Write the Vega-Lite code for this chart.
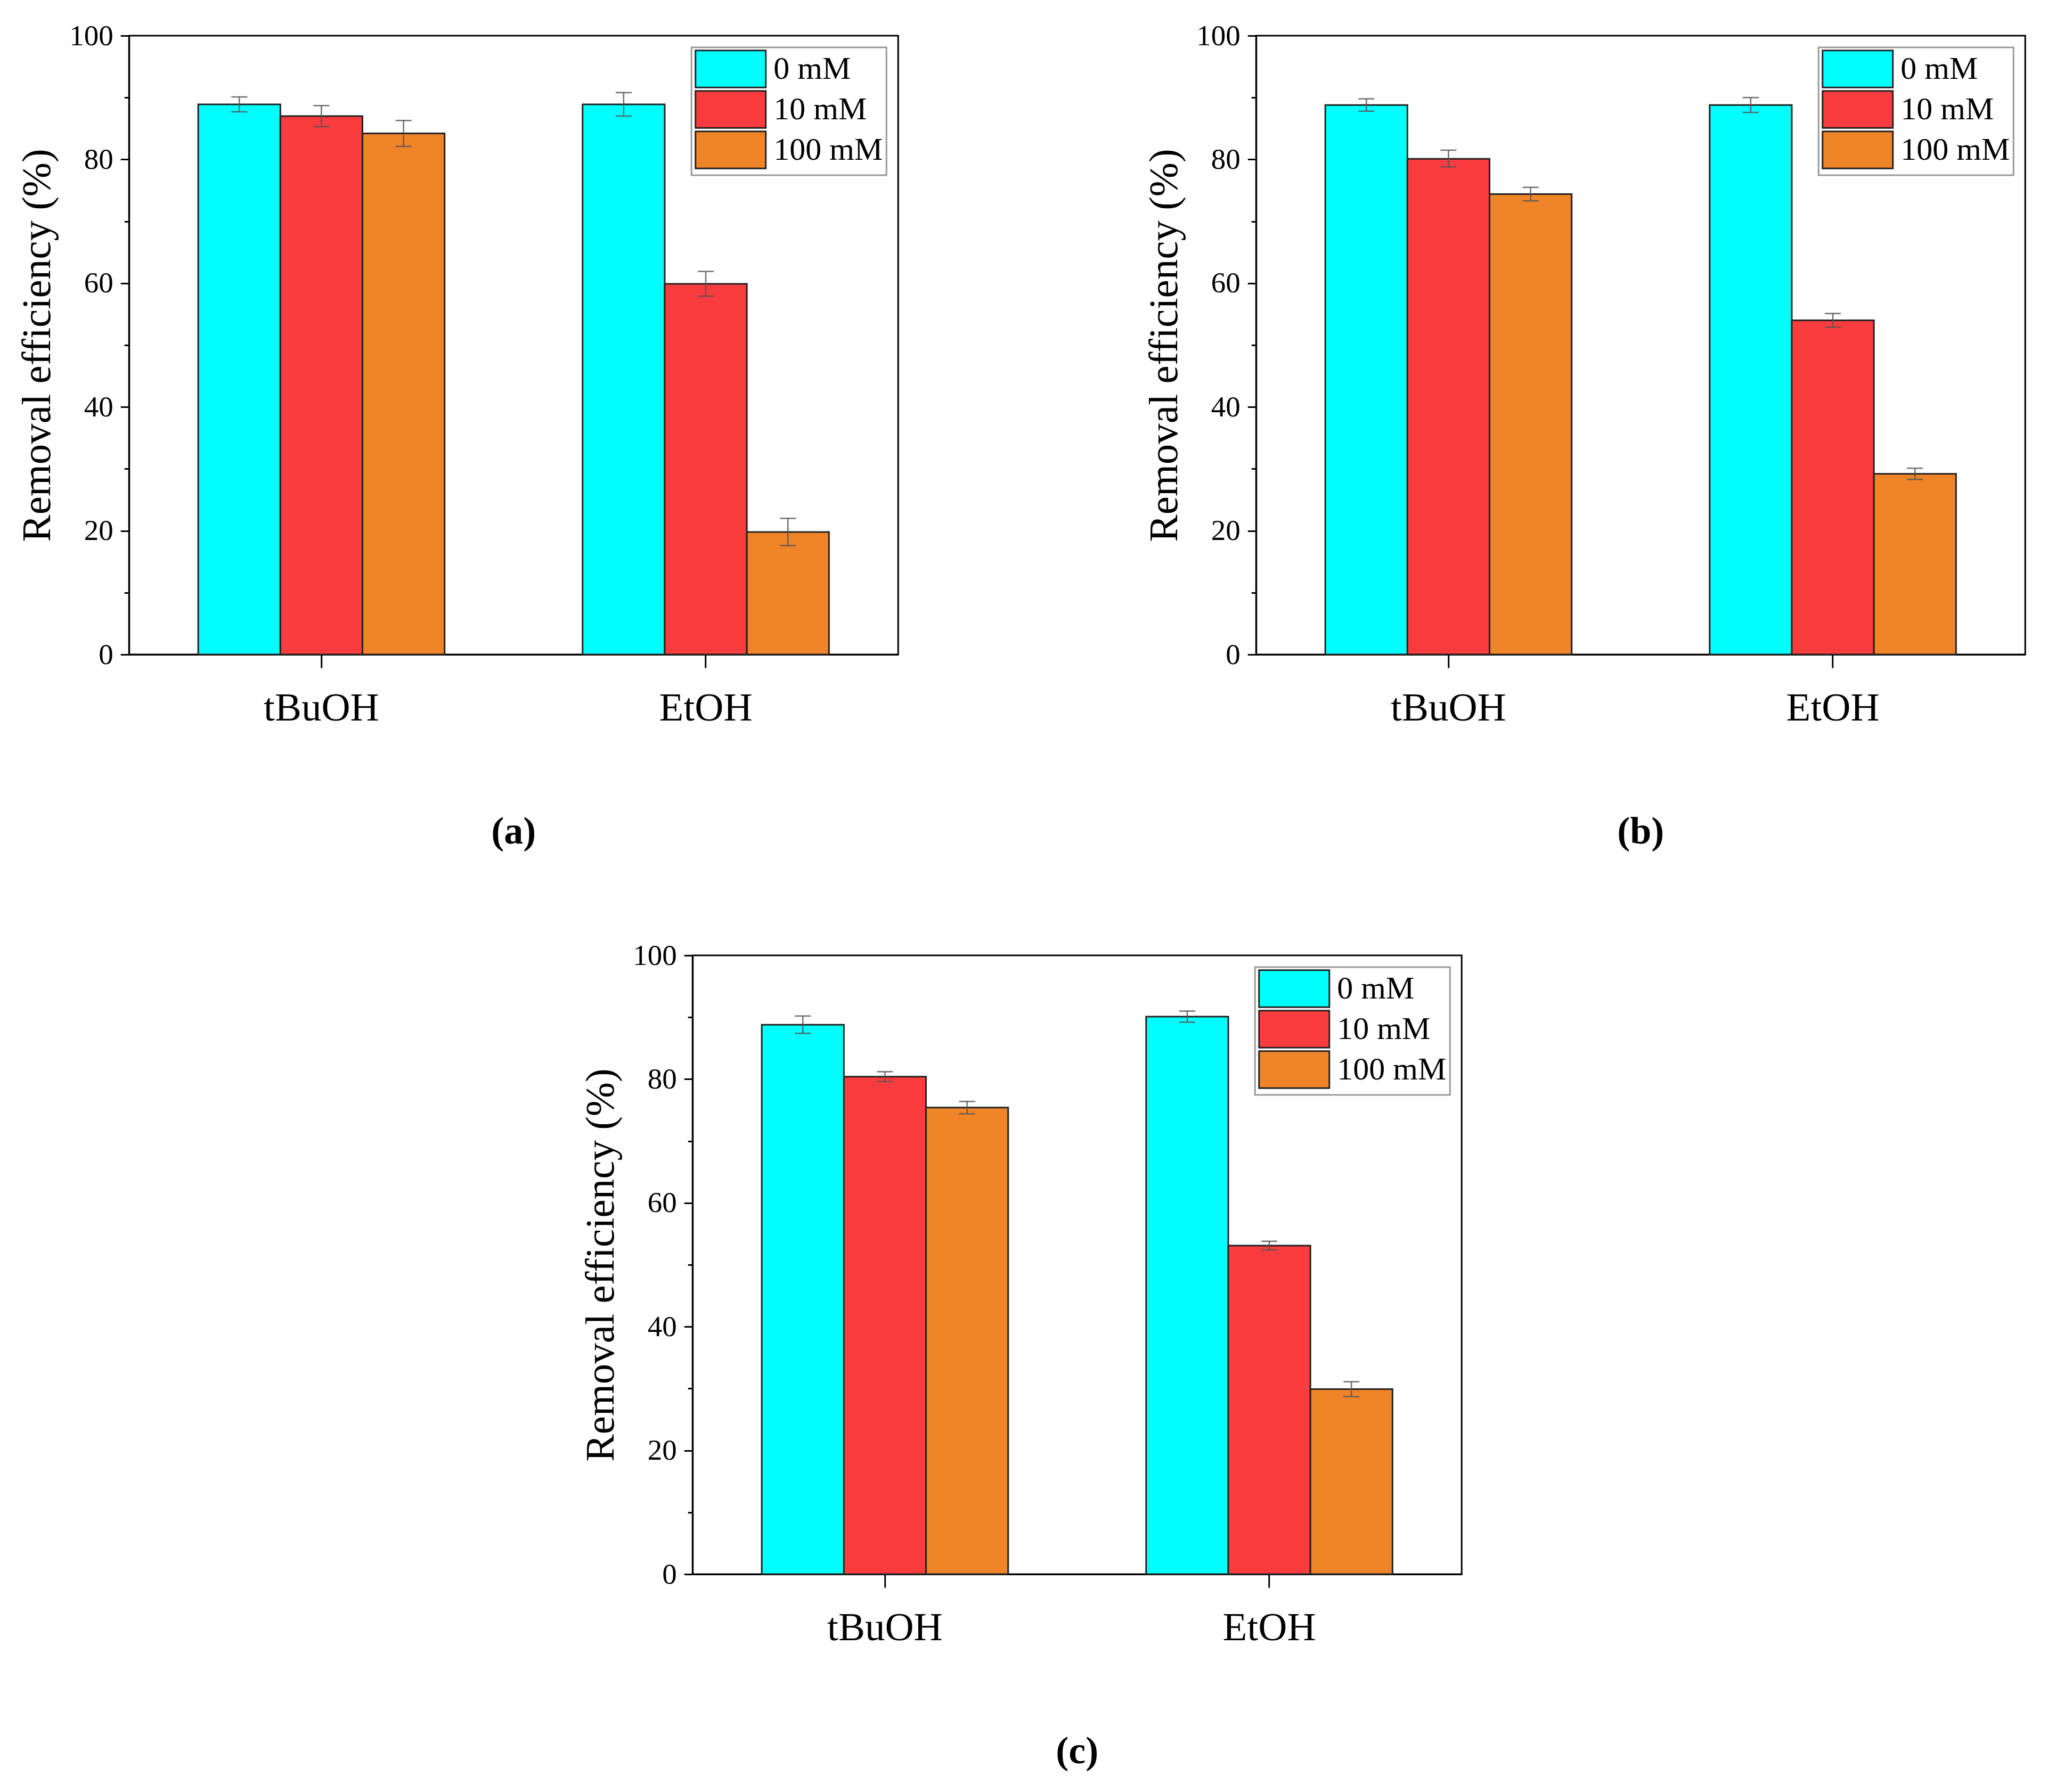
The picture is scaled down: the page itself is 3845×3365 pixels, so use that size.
{
  "$schema": "https://vega.github.io/schema/vega-lite/v6.json",
  "background": "white",
  "padding": {"left": 30, "top": 38, "right": 30, "bottom": 10},
  "datasets": {
    "bars": [
      {"panel": "a", "solvent": "tBuOH", "conc": "0 mM", "value": 88.9, "lo": 87.7, "hi": 90.1},
      {"panel": "a", "solvent": "tBuOH", "conc": "10 mM", "value": 87.0, "lo": 85.3, "hi": 88.7},
      {"panel": "a", "solvent": "tBuOH", "conc": "100 mM", "value": 84.2, "lo": 82.1, "hi": 86.3},
      {"panel": "a", "solvent": "EtOH", "conc": "0 mM", "value": 88.9, "lo": 87.0, "hi": 90.8},
      {"panel": "a", "solvent": "EtOH", "conc": "10 mM", "value": 59.9, "lo": 57.9, "hi": 61.9},
      {"panel": "a", "solvent": "EtOH", "conc": "100 mM", "value": 19.8, "lo": 17.6, "hi": 22.0},
      {"panel": "b", "solvent": "tBuOH", "conc": "0 mM", "value": 88.8, "lo": 87.8, "hi": 89.8},
      {"panel": "b", "solvent": "tBuOH", "conc": "10 mM", "value": 80.1, "lo": 78.8, "hi": 81.5},
      {"panel": "b", "solvent": "tBuOH", "conc": "100 mM", "value": 74.4, "lo": 73.3, "hi": 75.5},
      {"panel": "b", "solvent": "EtOH", "conc": "0 mM", "value": 88.8, "lo": 87.6, "hi": 90.0},
      {"panel": "b", "solvent": "EtOH", "conc": "10 mM", "value": 54.0, "lo": 52.9, "hi": 55.1},
      {"panel": "b", "solvent": "EtOH", "conc": "100 mM", "value": 29.2, "lo": 28.3, "hi": 30.1},
      {"panel": "c", "solvent": "tBuOH", "conc": "0 mM", "value": 88.8, "lo": 87.4, "hi": 90.2},
      {"panel": "c", "solvent": "tBuOH", "conc": "10 mM", "value": 80.4, "lo": 79.6, "hi": 81.2},
      {"panel": "c", "solvent": "tBuOH", "conc": "100 mM", "value": 75.4, "lo": 74.4, "hi": 76.4},
      {"panel": "c", "solvent": "EtOH", "conc": "0 mM", "value": 90.1, "lo": 89.2, "hi": 91.0},
      {"panel": "c", "solvent": "EtOH", "conc": "10 mM", "value": 53.1, "lo": 52.4, "hi": 53.8},
      {"panel": "c", "solvent": "EtOH", "conc": "100 mM", "value": 29.9, "lo": 28.7, "hi": 31.1}
    ]
  },
  "center": true,
  "spacing": 165,
  "resolve": {"scale": {"color": "independent", "y": "independent", "x": "independent"}, "legend": {"color": "independent"}},
  "vconcat": [
    {
      "spacing": 458,
      "resolve": {"scale": {"color": "independent", "y": "independent", "x": "independent"}, "legend": {"color": "independent"}},
      "hconcat": [
        {
          "data": {"name": "bars"},
          "transform": [{"filter": "datum.panel === 'a'"}],
          "width": 1444,
          "height": 1162,
          "title": {"text": "(a)"},
          "encoding": {
            "x": {"field": "solvent", "type": "nominal", "sort": ["tBuOH", "EtOH"], "scale": {"paddingInner": 0.359, "paddingOuter": 0.18}, "axis": {"title": null}},
            "xOffset": {"field": "conc", "type": "nominal", "sort": ["0 mM", "10 mM", "100 mM"], "scale": {"paddingInner": 0, "paddingOuter": 0}}
          },
          "layer": [
            {
              "mark": {"type": "bar", "stroke": "#222", "strokeWidth": 3},
              "encoding": {
                "y": {"field": "value", "type": "quantitative", "title": "Removal efficiency (%)", "scale": {"domain": [0, 100], "nice": false},
                  "axis": {"values": [0, 10, 20, 30, 40, 50, 60, 70, 80, 90, 100], "labelExpr": "datum.value % 20 === 0 ? datum.label : ''",
                    "tickSize": {"condition": {"test": "datum.value % 20 === 0", "value": 16}, "value": 9}}},
                "color": {"field": "conc", "type": "nominal", "sort": ["0 mM", "10 mM", "100 mM"],
                  "scale": {"domain": ["0 mM", "10 mM", "100 mM"], "range": ["#00FFFF", "#FA3C3E", "#EF8429"]}}
              }
            },
            {
              "mark": {"type": "rule", "color": "#555", "strokeWidth": 2.5, "opacity": 0.85},
              "encoding": {"y": {"field": "lo", "type": "quantitative", "title": "Removal efficiency (%)"}, "y2": {"field": "hi"}}
            },
            {
              "mark": {"type": "tick", "color": "#555", "size": 30, "thickness": 2.5, "opacity": 0.85},
              "encoding": {"y": {"field": "lo", "type": "quantitative", "title": "Removal efficiency (%)"}}
            },
            {
              "mark": {"type": "tick", "color": "#555", "size": 30, "thickness": 2.5, "opacity": 0.85},
              "encoding": {"y": {"field": "hi", "type": "quantitative", "title": "Removal efficiency (%)"}}
            }
          ]
        },
        {
          "data": {"name": "bars"},
          "transform": [{"filter": "datum.panel === 'b'"}],
          "width": 1444,
          "height": 1162,
          "title": {"text": "(b)"},
          "encoding": {
            "x": {"field": "solvent", "type": "nominal", "sort": ["tBuOH", "EtOH"], "scale": {"paddingInner": 0.359, "paddingOuter": 0.18}, "axis": {"title": null}},
            "xOffset": {"field": "conc", "type": "nominal", "sort": ["0 mM", "10 mM", "100 mM"], "scale": {"paddingInner": 0, "paddingOuter": 0}}
          },
          "layer": [
            {
              "mark": {"type": "bar", "stroke": "#222", "strokeWidth": 3},
              "encoding": {
                "y": {"field": "value", "type": "quantitative", "title": "Removal efficiency (%)", "scale": {"domain": [0, 100], "nice": false},
                  "axis": {"values": [0, 10, 20, 30, 40, 50, 60, 70, 80, 90, 100], "labelExpr": "datum.value % 20 === 0 ? datum.label : ''",
                    "tickSize": {"condition": {"test": "datum.value % 20 === 0", "value": 16}, "value": 9}}},
                "color": {"field": "conc", "type": "nominal", "sort": ["0 mM", "10 mM", "100 mM"],
                  "scale": {"domain": ["0 mM", "10 mM", "100 mM"], "range": ["#00FFFF", "#FA3C3E", "#EF8429"]}}
              }
            },
            {
              "mark": {"type": "rule", "color": "#555", "strokeWidth": 2.5, "opacity": 0.85},
              "encoding": {"y": {"field": "lo", "type": "quantitative", "title": "Removal efficiency (%)"}, "y2": {"field": "hi"}}
            },
            {
              "mark": {"type": "tick", "color": "#555", "size": 30, "thickness": 2.5, "opacity": 0.85},
              "encoding": {"y": {"field": "lo", "type": "quantitative", "title": "Removal efficiency (%)"}}
            },
            {
              "mark": {"type": "tick", "color": "#555", "size": 30, "thickness": 2.5, "opacity": 0.85},
              "encoding": {"y": {"field": "hi", "type": "quantitative", "title": "Removal efficiency (%)"}}
            }
          ]
        }
      ]
    },
    {
      "data": {"name": "bars"},
      "transform": [{"filter": "datum.panel === 'c'"}],
      "width": 1444,
      "height": 1162,
      "title": {"text": "(c)"},
      "encoding": {
        "x": {"field": "solvent", "type": "nominal", "sort": ["tBuOH", "EtOH"], "scale": {"paddingInner": 0.359, "paddingOuter": 0.18}, "axis": {"title": null}},
        "xOffset": {"field": "conc", "type": "nominal", "sort": ["0 mM", "10 mM", "100 mM"], "scale": {"paddingInner": 0, "paddingOuter": 0}}
      },
      "layer": [
        {
          "mark": {"type": "bar", "stroke": "#222", "strokeWidth": 3},
          "encoding": {
            "y": {"field": "value", "type": "quantitative", "title": "Removal efficiency (%)", "scale": {"domain": [0, 100], "nice": false},
              "axis": {"values": [0, 10, 20, 30, 40, 50, 60, 70, 80, 90, 100], "labelExpr": "datum.value % 20 === 0 ? datum.label : ''",
                "tickSize": {"condition": {"test": "datum.value % 20 === 0", "value": 16}, "value": 9}}},
            "color": {"field": "conc", "type": "nominal", "sort": ["0 mM", "10 mM", "100 mM"],
              "scale": {"domain": ["0 mM", "10 mM", "100 mM"], "range": ["#00FFFF", "#FA3C3E", "#EF8429"]}}
          }
        },
        {
          "mark": {"type": "rule", "color": "#555", "strokeWidth": 2.5, "opacity": 0.85},
          "encoding": {"y": {"field": "lo", "type": "quantitative", "title": "Removal efficiency (%)"}, "y2": {"field": "hi"}}
        },
        {
          "mark": {"type": "tick", "color": "#555", "size": 30, "thickness": 2.5, "opacity": 0.85},
          "encoding": {"y": {"field": "lo", "type": "quantitative", "title": "Removal efficiency (%)"}}
        },
        {
          "mark": {"type": "tick", "color": "#555", "size": 30, "thickness": 2.5, "opacity": 0.85},
          "encoding": {"y": {"field": "hi", "type": "quantitative", "title": "Removal efficiency (%)"}}
        }
      ]
    }
  ],
  "config": {
    "font": "Liberation Serif",
    "view": {"stroke": "black", "strokeWidth": 3},
    "axis": {"grid": false, "domainColor": "black", "domainWidth": 3, "tickColor": "black", "tickWidth": 3, "labelColor": "black", "titleColor": "black", "labelFont": "Liberation Serif", "titleFont": "Liberation Serif", "labelLimit": 0},
    "axisX": {"labelAngle": 0, "labelFontSize": 75, "tickSize": 25, "labelPadding": 39, "domain": true},
    "axisY": {"labelFontSize": 55, "labelPadding": 14, "titleFontSize": 77, "titleFontWeight": "normal", "titlePadding": 20},
    "title": {"orient": "bottom", "fontSize": 72, "fontWeight": "bold", "font": "Liberation Serif", "color": "black", "offset": 160, "anchor": "middle"},
    "legend": {
      "orient": "top-right", "offset": 22, "title": null,
      "strokeColor": "#999", "strokeWidth": 3, "padding": 6, "fillColor": "white",
      "labelFont": "Liberation Serif", "labelFontSize": 60, "labelColor": "black", "labelOffset": 46, "labelLimit": 1000,
      "symbolType": "M-2,-1.05H2V1.05H-2Z", "symbolSize": 4356, "symbolOffset": 33, "symbolStrokeColor": "#222", "symbolStrokeWidth": 3, "symbolOpacity": 1,
      "rowPadding": -7
    }
  }
}
